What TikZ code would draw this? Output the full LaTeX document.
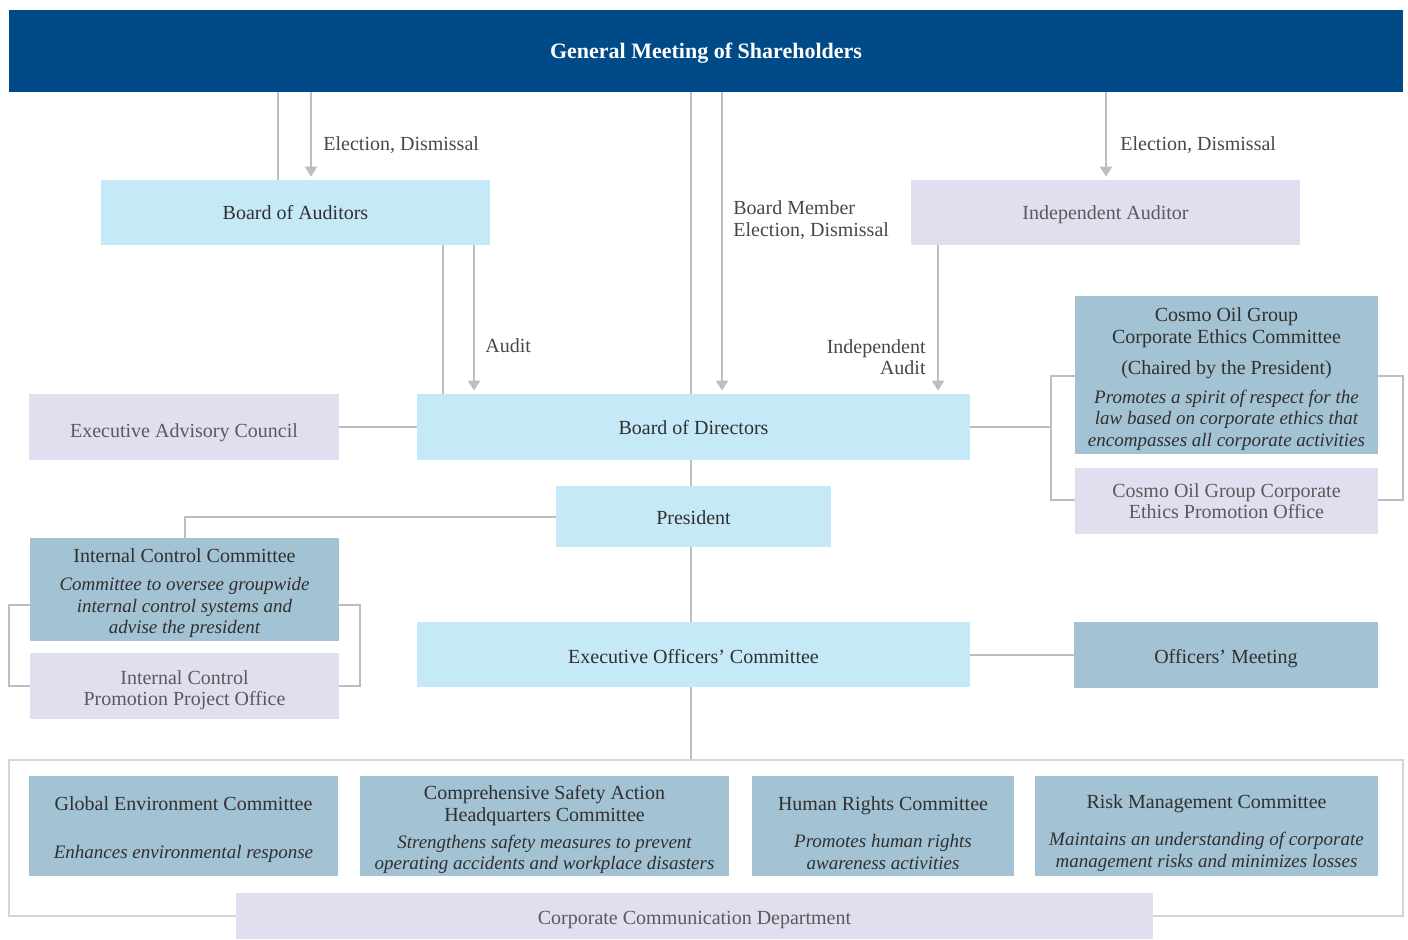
\documentclass[tikz,border=0pt]{standalone}
\usepackage{fontspec}
\setmainfont{Liberation Serif}
\usetikzlibrary{arrows.meta}
\definecolor{navy}{HTML}{004B87}
\definecolor{lblue}{HTML}{C6E9F8}
\definecolor{lav}{HTML}{E0DFEF}
\definecolor{steel}{HTML}{A3C2D3}
\definecolor{lgray}{HTML}{BEBEC2}
\definecolor{txt}{HTML}{303030}
\definecolor{txtl}{HTML}{5A5A5A}
\definecolor{txtlab}{HTML}{474747}
\definecolor{framec}{HTML}{D5D5D5}
\newcommand\dn[1]{\rule{0pt}{#1}}
\newcommand\ital[1]{{\fontsize{9.5}{10.75}\selectfont\itshape #1}}
\begin{document}
\begin{tikzpicture}[x=0.5pt,y=-0.5pt,
  box/.style={rectangle,inner sep=0pt,align=center,text=txt,font=\fontsize{10}{10.75}\selectfont},
  lbbox/.style={box,fill=lblue},
  lavbox/.style={box,fill=lav,text=txtl},
  stbox/.style={box,fill=steel},
  conn/.style={draw=lgray,line width=1pt},
  arr/.style={conn,-{Triangle[width=6pt,length=5pt]},shorten >=1.5pt},
  lab/.style={inner sep=0pt,text=txtlab,font=\fontsize{10}{10.75}\selectfont}
]
\useasboundingbox (0,0) rectangle (1408,939);

% boxes
\node[box,fill=navy,text=white,font=\fontsize{11}{13}\selectfont\bfseries,minimum width=697pt,minimum height=41pt] (gm) at (706,51) {\dn{9.6pt}General Meeting of Shareholders};
\node[lbbox,minimum width=194.5pt,minimum height=32.5pt] (boa) at (295.5,212.5) {Board of Auditors};
\node[lavbox,minimum width=194.5pt,minimum height=32.5pt] (ia) at (1105.5,212.5) {\dn{8.9pt}Independent Auditor};
\node[lbbox,minimum width=276.5pt,minimum height=33pt] (bod) at (693.5,427) {\dn{7.9pt}Board of Directors};
\node[lavbox,minimum width=155pt,minimum height=33pt] (eac) at (184,427) {\dn{12.4pt}Executive Advisory Council};
\node[lbbox,minimum width=137.5pt,minimum height=30.5pt] (pres) at (693.5,516.5) {\dn{7.9pt}President};
\node[stbox,minimum width=154.5pt,minimum height=51.5pt] (icc) at (184.5,589.5) {\dn{10.9pt}Internal Control Committee\\[3.25pt]\ital{Committee to oversee groupwide}\\\ital{internal control systems and}\\\ital{advise the president}};
\node[lavbox,minimum width=154.5pt,minimum height=33pt] (icp) at (184.5,686) {\dn{10.9pt}Internal Control\\Promotion Project Office};
\node[lbbox,minimum width=276.5pt,minimum height=32.5pt] (eoc) at (693.5,654.5) {\dn{8.9pt}Executive Officers' Committee};
\node[stbox,minimum width=152pt,minimum height=33pt] (om) at (1226,655) {\dn{10.9pt}Officers' Meeting};
\node[stbox,minimum width=151.5pt,minimum height=79pt] (ec) at (1226.5,375) {\dn{10.9pt}Cosmo Oil Group\\Corporate Ethics Committee\\[4.75pt](Chaired by the President)\\[3.75pt]\ital{Promotes a spirit of respect for the}\\\ital{law based on corporate ethics that}\\\ital{encompasses all corporate activities}};
\node[lavbox,minimum width=151.5pt,minimum height=33pt] (epo) at (1226.5,501) {Cosmo Oil Group Corporate\\Ethics Promotion Office};

\node[draw=framec,line width=0.75pt,inner sep=0pt,minimum width=697pt,minimum height=78pt] (outer) at (706,838) {};
\node[stbox,minimum width=154.5pt,minimum height=50pt] (gec) at (183.5,826) {\dn{10.9pt}Global Environment Committee\\[13.25pt]\ital{Enhances environmental response}};
\node[stbox,minimum width=184.5pt,minimum height=50pt] (csa) at (544.5,826) {\dn{10.9pt}Comprehensive Safety Action\\Headquarters Committee\\[2.75pt]\ital{Strengthens safety measures to prevent}\\\ital{operating accidents and workplace disasters}};
\node[stbox,minimum width=131pt,minimum height=50pt] (hrc) at (883,826) {\dn{13.9pt}Human Rights Committee\\[7.75pt]\ital{Promotes human rights}\\\ital{awareness activities}};
\node[stbox,minimum width=171.5pt,minimum height=50pt] (rmc) at (1206.5,826) {\dn{13.9pt}Risk Management Committee\\[7.75pt]\ital{Maintains an understanding of corporate}\\\ital{management risks and minimizes losses}};
\node[lavbox,minimum width=458.5pt,minimum height=23pt] (ccd) at (694.5,916) {\dn{10.9pt}Corporate Communication Department};

% connectors from the general meeting
\draw[conn] (278,0 |- gm.south) -- (278,0 |- boa.north);
\draw[arr] (311,0 |- gm.south) -- (311,0 |- boa.north);
\draw[conn] (691,0 |- gm.south) -- (691,0 |- bod.north);
\draw[arr] (722,0 |- gm.south) -- (722,0 |- bod.north);
\draw[arr] (1106,0 |- gm.south) -- (1106,0 |- ia.north);
\draw[conn] (443,0 |- boa.south) -- (443,0 |- bod.north);
\draw[arr] (474,0 |- boa.south) -- (474,0 |- bod.north);
\draw[arr] (938,0 |- ia.south) -- (938,0 |- bod.north);

% labels
\node[lab,anchor=west] (l1) at (323,145) {Election, Dismissal};
\node[lab,anchor=west] (l2) at (1120,145) {Election, Dismissal};
\node[lab,anchor=west,align=left] (l3) at (733,220) {Board Member\\Election, Dismissal};
\node[lab,anchor=west] (l4) at (485,346) {Audit};
\node[lab,anchor=east,align=right] (l5) at (926,357) {Independent\\Audit};

% other connectors
\draw[conn] (eac.east) -- (bod.west);
\draw[conn] (691,0 |- bod.south) -- (691,0 |- pres.north);
\draw[conn] (691,0 |- pres.south) -- (691,0 |- eoc.north);
\draw[conn] (691,0 |- eoc.south) -- (691,0 |- outer.north);
\draw[conn] (pres.west) -| (icc.north);
\draw[conn] (eoc.east) -- (om.west |- eoc.east);
\draw[conn] (bod.east) -- (1051,0 |- bod.east);
\draw[conn] (ec.west |- 0,376) -- (1051,376) -- (1051,500) -- (epo.west |- 0,500);
\draw[conn] (ec.east |- 0,376) -- (1403,376) -- (1403,500) -- (epo.east |- 0,500);
\draw[conn] (icc.west |- 0,605) -- (9,605) -- (9,686) -- (icp.west |- 0,686);
\draw[conn] (icc.east |- 0,605) -- (360,605) -- (360,686) -- (icp.east |- 0,686);
\end{tikzpicture}
\end{document}
